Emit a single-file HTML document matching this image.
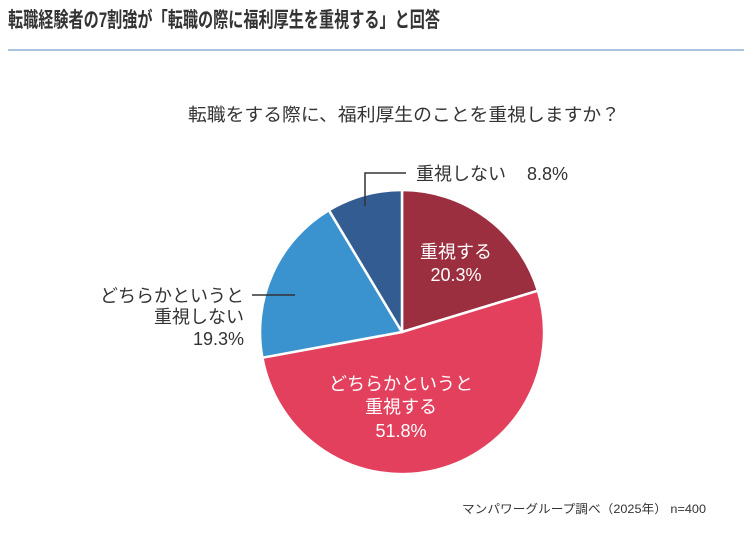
<!DOCTYPE html>
<html><head><meta charset="utf-8"><style>
body{margin:0;width:744px;height:546px;background:#fff;overflow:hidden;font-family:"Liberation Sans","Noto Sans CJK JP",sans-serif;color:#333}
</style></head><body>
<svg width="744" height="546" viewBox="0 0 744 546" style="position:absolute;left:0;top:0" font-family="Liberation Sans, Noto Sans CJK JP, sans-serif">
<text x="8" y="27" font-size="21" font-weight="bold" fill="#333" textLength="432" lengthAdjust="spacingAndGlyphs">転職経験者の7割強が「転職の際に福利厚生を重視する」と回答</text>
<rect x="8" y="49" width="736" height="2" fill="#a9c4e0"/>
<text x="188" y="121" font-size="18" fill="#333" textLength="432" lengthAdjust="spacingAndGlyphs">転職をする際に、福利厚生のことを重視しますか？</text>
<g stroke="#fff" stroke-width="2.5" stroke-linejoin="round">
<path d="M402,332 L402,190 A142,142 0 0 1 537.9,290.7 Z" fill="#9b2f3f"/>
<path d="M402,332 L537.9,290.7 A142,142 0 1 1 262.4,357.7 Z" fill="#e3405e"/>
<path d="M402,332 L262.4,357.7 A142,142 0 0 1 328.9,210.2 Z" fill="#3a93cf"/>
<path d="M402,332 L328.9,210.2 A142,142 0 0 1 402,190 Z" fill="#335d92"/>
</g>
<polyline points="365,206 365,173 406,173" fill="none" stroke="#333" stroke-width="1.5"/>
<line x1="252" y1="295" x2="295" y2="295" stroke="#333" stroke-width="1.5"/>
<text x="416" y="180" font-size="18" fill="#333">重視しない</text>
<text x="527" y="180" font-size="18" fill="#333">8.8%</text>
<text x="456" y="258" font-size="18" fill="#fff" text-anchor="middle">重視する</text>
<text x="456" y="281" font-size="18" fill="#fff" text-anchor="middle">20.3%</text>
<text x="401" y="390" font-size="18" fill="#fff" text-anchor="middle">どちらかというと</text>
<text x="401" y="413" font-size="18" fill="#fff" text-anchor="middle">重視する</text>
<text x="401" y="437" font-size="18" fill="#fff" text-anchor="middle">51.8%</text>
<text x="244" y="302" font-size="18" fill="#333" text-anchor="end">どちらかというと</text>
<text x="244" y="323" font-size="18" fill="#333" text-anchor="end">重視しない</text>
<text x="244" y="345" font-size="18" fill="#333" text-anchor="end">19.3%</text>
<text x="462" y="513" font-size="12" fill="#333" textLength="244" lengthAdjust="spacingAndGlyphs">マンパワーグループ調べ（2025年） n=400</text>
</svg>
</body></html>
